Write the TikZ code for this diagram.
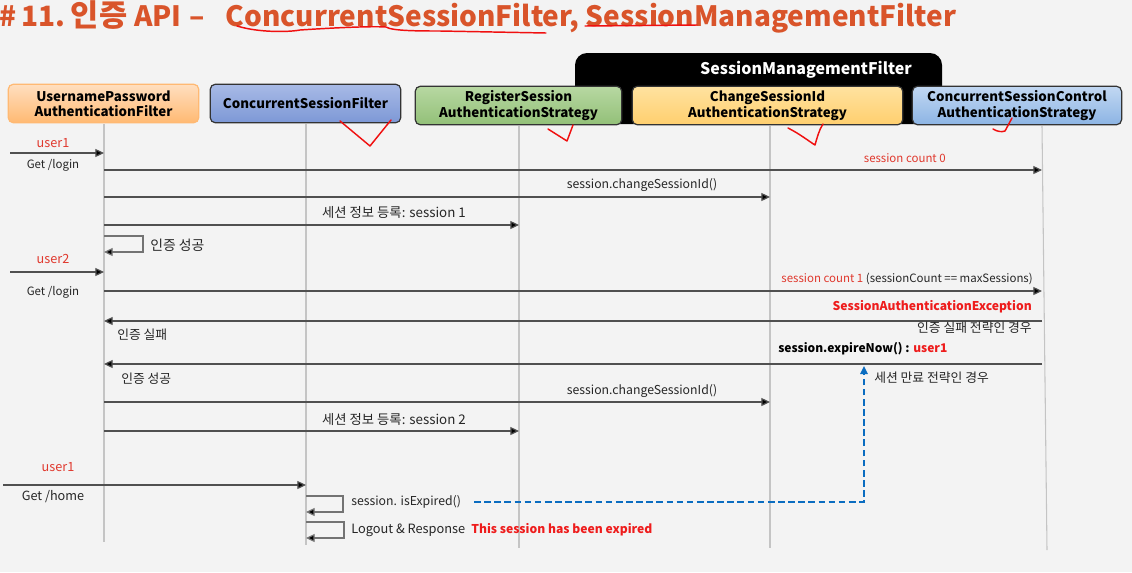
\documentclass[tikz,border=0pt]{standalone}
\usepackage{fontspec}
\setmainfont{Noto Sans CJK KR}
\usetikzlibrary{arrows.meta}
\definecolor{bg}{HTML}{F3F3F3}
\definecolor{titlec}{HTML}{D9542A}
\definecolor{redtxt}{HTML}{E0392E}
\definecolor{redbold}{HTML}{EE1C1C}
\definecolor{pen}{HTML}{F01010}
\definecolor{lifec}{HTML}{C4C4C4}
\definecolor{msgc}{HTML}{505050}
\definecolor{dashc}{HTML}{0A6CC0}
\definecolor{txt}{HTML}{262626}
\begin{document}
\begin{tikzpicture}[x=0.75pt,y=-0.75pt,
  hdr/.style={rounded corners=4pt, line width=0.9pt, draw=#1, align=center,
    font=\fontsize{10}{11.5}\selectfont\bfseries, text=black, inner sep=0pt},
  life/.style={draw=lifec, line width=0.8pt},
  msg/.style={draw=msgc, line width=0.9pt, -{Triangle[length=6.5pt,width=6pt,fill=black]}},
  selfloop/.style={draw=msgc!80, line width=0.9pt, -{Triangle[length=6.5pt,width=6pt,fill=black]}},
  lbl/.style={font=\fontsize{9.2}{10}\selectfont, text=txt, inner sep=0pt},
  small/.style={font=\fontsize{8.6}{9}\selectfont, text=txt, inner sep=0pt},
  kor/.style={font=\fontsize{9.6}{10}\selectfont, text=txt, inner sep=0pt},
  korbig/.style={font=\fontsize{10.4}{11}\selectfont, text=txt, inner sep=0pt},
  reg/.style={font=\fontsize{10}{11}\selectfont, text=txt, inner sep=0pt},
  usr/.style={font=\fontsize{9.5}{10}\selectfont, text=redtxt, inner sep=0pt},
  boldred/.style={inner sep=0pt, text=redbold, font=\fontsize{9.1}{11}\selectfont\bfseries},
  penmark/.style={draw=pen, line width=1.1pt, line cap=round, line join=round}
]
% canvas
\fill[bg] (0,0) rectangle (1132,572);
\useasboundingbox (0,0) rectangle (1132,572);

% title
\node[anchor=west, inner sep=0pt, text=titlec, font=\fontsize{21}{24}\selectfont\bfseries] (title) at (-1,17)
  {\#\hspace{4pt}11.\hspace{4pt}{\fontsize{23}{24}\selectfont 인증}\hspace{5pt}API\hspace{6pt}–\hspace{11pt} ConcurrentSessionFilter, SessionManagementFilter};

% SessionManagementFilter frame
\fill[black, rounded corners=9pt] (575,53) rectangle (942,124);
\node[text=white, font=\fontsize{12}{13}\selectfont\bfseries, inner sep=0pt] (smf) at (806,70) {SessionManagementFilter};

% participants
\node[hdr=orange!55, top color=orange!25, bottom color=orange!55, minimum width=143pt, minimum height=29pt] (upf) at (103.5,103.5)
  {UsernamePassword\\AuthenticationFilter};
\node[hdr=black!80, top color={rgb,255:red,168;green,186;blue,230}, bottom color={rgb,255:red,125;green,152;blue,214},
  minimum width=143pt, minimum height=29pt] (csf) at (305.5,103.5)
  {ConcurrentSessionFilter};
\node[hdr=black!80, top color={rgb,255:red,184;green,216;blue,162}, bottom color={rgb,255:red,146;green,192;blue,120},
  minimum width=155pt, minimum height=29pt] (rsa) at (518.5,105.5)
  {RegisterSession\\AuthenticationStrategy};
\node[hdr=black!80, top color={rgb,255:red,255;green,226;blue,160}, bottom color={rgb,255:red,255;green,207;blue,110},
  minimum width=203pt, minimum height=29pt] (csi) at (767.5,105.5)
  {ChangeSessionId\\AuthenticationStrategy};
\node[hdr=black!80, top color={rgb,255:red,194;green,216;blue,242}, bottom color={rgb,255:red,140;green,180;blue,228},
  minimum width=157pt, minimum height=29pt] (cca) at (1017,105.5)
  {ConcurrentSessionControl\\AuthenticationStrategy};

% lifelines
\coordinate (L1) at (104,124);  \coordinate (L1b) at (104,542);
\coordinate (L2) at (306,124);  \coordinate (L2b) at (306,545);
\coordinate (L3) at (519,126);  \coordinate (L3b) at (519,548);
\coordinate (L4) at (770,126);  \coordinate (L4b) at (770,548);
\coordinate (L5) at (1042,126); \coordinate (L5b) at (1047,550);
\draw[life] (L1) -- (L1b);
\draw[life] (L2) -- (L2b);
\draw[life] (L3) -- (L3b);
\draw[life] (L4) -- (L4b);
\draw[life] (L5) -- (L5b);

% user1 login
\node[usr] (u1) at (53,143) {user1};
\coordinate (in1) at (10,153);
\draw[msg] (in1) -- (L1 |- in1);
\node[small] (g1) at (53,165) {Get /login};

\draw[msg] (L1 |- 0,170) -- (L5 |- 0,170);
\node[small, text=redtxt, anchor=east] (sc0) at (946,158) {session count 0};

\draw[msg] (L1 |- 0,197) -- (L4 |- 0,197);
\node[lbl] (chg1) at (642,185) {session.changeSessionId()};

\draw[msg] (L1 |- 0,225) -- (L3 |- 0,225);
\node[reg] (reg1) at (394,213) {세션 정보 등록: session 1};

\draw[selfloop] (L1 |- 0,236) -- ++(39,0) -- ++(0,16) -- (L1 |- 0,252);
\node[korbig, anchor=west] (ok1) at (150,245) {인증 성공};

% user2 login
\node[usr] (u2) at (53,259) {user2};
\coordinate (in2) at (10,272);
\draw[msg] (in2) -- (L1 |- in2);
\node[small] (g2) at (53,292) {Get /login};

\draw[msg] (L1 |- 0,291) -- (L5 |- 0,291);
\node[small, anchor=east] (sc1) at (1033,279) {\textcolor{redtxt}{session count 1} (sessionCount == maxSessions)};

\node[boldred, anchor=east] (sae) at (1032,307) {SessionAuthenticationException};

\draw[msg] (L5 |- 0,321) -- (L1 |- 0,321);
\node[kor, anchor=west] (fail) at (117,335) {인증 실패};
\node[kor, anchor=east] (failcase) at (1032,328) {인증 실패 전략인 경우};

\node[anchor=west, inner sep=0pt, font=\fontsize{9}{11}\selectfont\bfseries] (exp) at (778,349)
  {session.expireNow() : \textcolor{redbold}{user1}};

\draw[msg] (L5 |- 0,364) -- (L1 |- 0,364);
\node[kor, anchor=west] (ok2) at (121,379) {인증 성공};
\node[kor, anchor=west] (expcase) at (874,378) {세션 만료 전략인 경우};

\draw[msg] (L1 |- 0,402) -- (L4 |- 0,402);
\node[lbl] (chg2) at (642,391) {session.changeSessionId()};

\draw[msg] (L1 |- 0,431) -- (L3 |- 0,431);
\node[reg] (reg2) at (394,419) {세션 정보 등록: session 2};

% user1 revisits
\node[usr] (u3) at (58,467) {user1};
\coordinate (in3) at (3,485);
\draw[msg] (in3) -- (L2 |- in3);
\node[lbl, font=\fontsize{9.5}{10}\selectfont] (gh) at (53,497) {Get /home};

\draw[selfloop] (L2 |- 0,496) -- ++(37,0) -- ++(0,16) -- (L2 |- 0,512);
\node[lbl, anchor=west] (isexp) at (351,502) {session. isExpired()};
\draw[selfloop] (L2 |- 0,522) -- ++(38,0) -- ++(0,16) -- (L2 |- 0,538);
\node[lbl, anchor=west, font=\fontsize{9.6}{10}\selectfont] (logout) at (351,530) {Logout \& Response};
\node[boldred, anchor=west, font=\fontsize{9.1}{11}\selectfont\bfseries] (expired) at (471,530) {This session has been expired};

% expiry link
\coordinate (dstart) at (474,502);
\coordinate (dend) at (864,366);
\draw[dashc, line width=1.6pt, dash pattern=on 5pt off 2.6pt, -{Triangle[length=6pt,width=5.5pt]}] (dstart) -| (dend);

% pen marks
\draw[penmark] (237,26) .. controls (260,33) and (290,32) .. (300,30) .. controls (330,28) and (370,26) .. (386,27)
  .. controls (392,31) and (420,31) .. (440,31) -- (546,33);
\draw[penmark] (585,26) -- (697,25);
\draw[penmark] (340,121) -- (370,146) -- (391,120);
\draw[penmark] (548,129) -- (567,141) -- (573,125);
\draw[penmark] (788,128) .. controls (800,134) and (810,142) .. (815,145) .. controls (817,138) and (819,130) .. (823,124);
\draw[penmark] (993,129) .. controls (998,132) and (1002,132) .. (1005,131) -- (1012,118);
\end{tikzpicture}
\end{document}
